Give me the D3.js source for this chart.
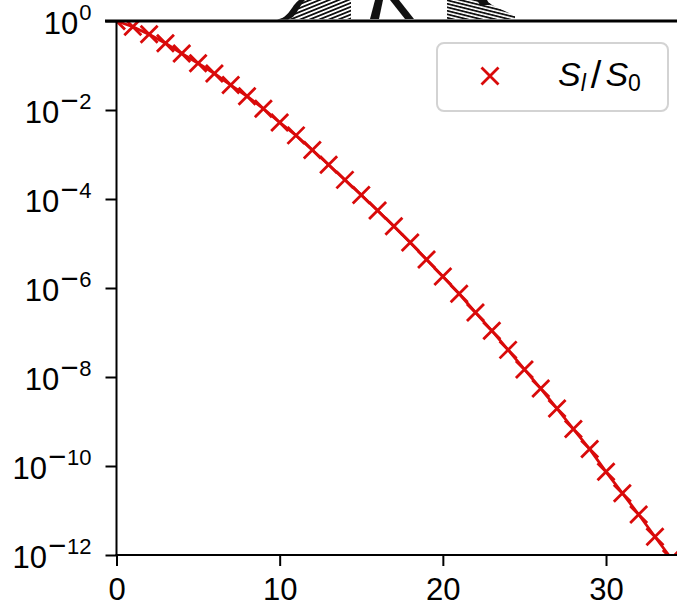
<!DOCTYPE html>
<html>
<head>
<meta charset="utf-8">
<script src="https://cdn.jsdelivr.net/npm/d3@7/dist/d3.min.js"></script>
<style>
  html, body { margin: 0; padding: 0; background: #fff; }
  svg { display: block; }
  text { font-family: "Liberation Sans", Arial, Helvetica, sans-serif; }
</style>
</head>
<body>
<svg id="chart" width="677" height="606"></svg>
<script>
// ---- data ----
const steps = [0,1,2,3,4,5,6,7,8,9,10,11,12,13,14,15,16,17,18,19,20,21,22,23,24,25,26,27,28,29,30,31,32,33,34];
const ratio = [1, 0.741, 0.501, 0.316, 0.186, 0.112, 0.0661, 0.0363, 0.0204, 0.0107,
  0.00525, 0.00269, 0.00126, 5.89e-4, 2.69e-4, 1.23e-4, 5.50e-5, 2.45e-5, 1.05e-5, 4.37e-6,
  1.82e-6, 7.41e-7, 2.82e-7, 1.10e-7, 4.07e-8, 1.48e-8, 5.50e-9, 1.95e-9, 6.76e-10, 2.40e-10,
  7.41e-11, 2.45e-11, 8.13e-12, 2.57e-12, 8.32e-13];
const xTicks = [0, 10, 20, 30];
const yTickExps = [0, -2, -4, -6, -8, -10, -12];
const seriesLabel = {main: "S", sub1: "l", mid: "/", main2: "S", sub2: "0"};

(function() {
// ---- layout ----
const svg = d3.select("#chart");
const pL = 116.5, pR = 677, pT = 21, pB = 555;
const red = "#d90a0a";

const x = d3.scaleLinear().domain([0, 34.35]).range([pL, pR]);
const y = d3.scaleLog().domain([1e-12, 1]).range([pB, pT]);

// ---- decoration above the axes (fragment of a neighbouring figure) ----
const defs = svg.append("defs");
const p1 = defs.append("pattern").attr("id", "hatch1").attr("patternUnits", "userSpaceOnUse")
  .attr("width", 12).attr("height", 3.6).attr("patternTransform", "rotate(-22)");
p1.append("rect").attr("width", 12).attr("height", 1.8).attr("fill", "#111");
const p2 = defs.append("pattern").attr("id", "hatch2").attr("patternUnits", "userSpaceOnUse")
  .attr("width", 12).attr("height", 3.4).attr("patternTransform", "rotate(14)");
p2.append("rect").attr("width", 12).attr("height", 1.8).attr("fill", "#111");

const deco = svg.append("g");
deco.append("path").attr("d", "M279,19 C290,18 293,6 301,0 L351,0 L351,19 Z").attr("fill", "url(#hatch1)");
deco.append("path").attr("d", "M277,19.5 C289,18 291,6 299,0 L305,0 C298,7 297,17 288,19.5 Z").attr("fill", "#111");
deco.append("path").attr("d", "M370,19 L379,19 L383,0 L375,0 Z").attr("fill", "#111");
deco.append("path").attr("d", "M390,0 L399,0 L414,19 L405,19 Z").attr("fill", "#111");
deco.append("path").attr("d", "M447,0 L486,0 L492,5 L515,16 L515,19 L447,19 Z").attr("fill", "url(#hatch2)");
deco.append("path").attr("d", "M477,0 L487,0 L490,5 L480,5 Z").attr("fill", "#111");

// ---- clip ----
defs.append("clipPath").attr("id", "plotclip")
  .append("rect").attr("x", pL).attr("y", pT).attr("width", pR - pL).attr("height", pB - pT);

// ---- series ----
const plot = svg.append("g").attr("clip-path", "url(#plotclip)");
const pts = steps.map((s, i) => [s, ratio[i]]);
plot.append("path")
  .datum(pts)
  .attr("fill", "none")
  .attr("stroke", red)
  .attr("stroke-width", 2.8)
  .attr("d", d3.line().x(d => x(d[0])).y(d => y(d[1])));

const m = 8.5;
plot.selectAll("path.mk").data(pts).join("path")
  .attr("class", "mk")
  .attr("d", d => {
    const cx = x(d[0]), cy = y(d[1]);
    return `M${cx - m},${cy - m}L${cx + m},${cy + m}M${cx - m},${cy + m}L${cx + m},${cy - m}`;
  })
  .attr("stroke", red)
  .attr("stroke-width", 2.8)
  .attr("fill", "none");

// ---- axes ----
const xAxis = svg.append("g").attr("transform", `translate(0,${pB})`)
  .call(d3.axisBottom(x).tickValues(xTicks).tickSize(11).tickSizeOuter(0).tickPadding(6));
xAxis.select(".domain").attr("stroke-width", 2).attr("d", `M${pL - 1},0H${pR}`);
xAxis.selectAll(".tick line").attr("stroke-width", 2);
xAxis.selectAll(".tick text").attr("font-size", 31).attr("fill", "#000")
  .attr("font-family", "Liberation Sans, Arial, sans-serif").attr("dy", "0.9em");

const yAxis = svg.append("g").attr("transform", `translate(${pL},0)`)
  .call(d3.axisLeft(y).tickValues(yTickExps.map(e => Math.pow(10, e))).tickSize(11).tickSizeOuter(0).tickFormat(""));
yAxis.select(".domain").attr("stroke-width", 2).attr("d", `M0,${pT}V${pB + 1}`);
yAxis.selectAll(".tick line").attr("stroke-width", 2);
yAxis.selectAll(".tick").each(function(d) {
  const e = Math.round(Math.log10(d));
  const t = d3.select(this).append("text")
    .attr("x", -25).attr("y", 12)
    .attr("text-anchor", "end")
    .attr("fill", "#000")
    .attr("font-size", 31);
  t.append("tspan").text("10");
  if (e === 0) {
    t.append("tspan").attr("dy", -14).attr("dx", 1).attr("font-size", 22).text("0");
  } else {
    t.append("tspan").attr("dy", -12).attr("dx", 1).attr("font-size", 31).attr("font-weight", 300).text("\u2212");
    t.append("tspan").attr("dy", -2).attr("dx", 1).attr("font-size", 22).text(String(Math.abs(e)));
  }
});

// top spine / border line
svg.append("line").attr("x1", 105).attr("x2", 677).attr("y1", pT).attr("y2", pT)
  .attr("stroke", "#000").attr("stroke-width", 3);

// ---- legend ----
const lg = svg.append("g");
lg.append("rect").attr("x", 437).attr("y", 43).attr("width", 231).attr("height", 68)
  .attr("rx", 7).attr("fill", "#fff").attr("fill-opacity", 0.85)
  .attr("stroke", "#d3d3d3").attr("stroke-width", 2);
const lx = 490, ly = 76;
lg.append("path")
  .attr("d", `M${lx - m},${ly - m}L${lx + m},${ly + m}M${lx - m},${ly + m}L${lx + m},${ly - m}`)
  .attr("stroke", red).attr("stroke-width", 2.8);
const lt = lg.append("text").attr("x", 558).attr("y", 86).attr("font-size", 34).attr("fill", "#000");
lt.append("tspan").attr("font-style", "italic").text(seriesLabel.main);
lt.append("tspan").attr("font-style", "italic").attr("font-size", 23).attr("dy", 5).text(seriesLabel.sub1);
lt.append("tspan").attr("dy", -3).attr("dx", 5).attr("font-size", 38).text(seriesLabel.mid);
lt.append("tspan").attr("font-style", "italic").attr("dy", -2).attr("dx", 4).text(seriesLabel.main2);
lt.append("tspan").attr("font-size", 23).attr("dy", 5).text(seriesLabel.sub2);
})();
</script>
</body>
</html>
